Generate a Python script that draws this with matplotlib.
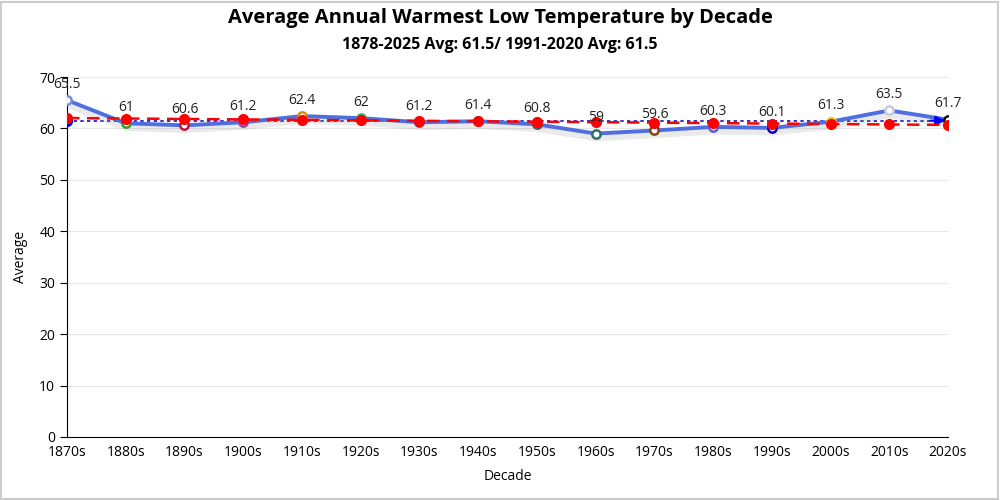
import numpy as np
import matplotlib
matplotlib.use("Agg")
import matplotlib.pyplot as plt
import matplotlib.patheffects as pe
from matplotlib.patches import Rectangle

plt.rcParams["font.family"] = ["Open Sans", "DejaVu Sans"]

decades = ["1870s", "1880s", "1890s", "1900s", "1910s", "1920s", "1930s", "1940s",
           "1950s", "1960s", "1970s", "1980s", "1990s", "2000s", "2010s", "2020s"]
averages = [65.5, 61, 60.6, 61.2, 62.4, 62, 61.2, 61.4, 60.8, 59, 59.6, 60.3, 60.1, 61.3, 63.5, 61.7]
marker_edges = ["#6f8fdc", "#2ca02c", "#c0143c", "#8e44ad", "#e08a00", "#3cb371", "#555555", "#555555",
                "#555555", "#2f6f6f", "#8b4513", "#6a5acd", "#0000cd", "#e6c800", "#c8c8dc", "#111111"]
period_avg = 61.5

x = np.arange(len(decades))
slope, intercept = np.polyfit(x, averages, 1)
trend = slope * x + intercept

fig = plt.figure(figsize=(10, 5), dpi=100)
ax = fig.add_axes([0.067, 0.126, 0.881, 0.72])

# long-term average reference line with arrow at the end
ax.plot(x, [period_avg] * len(x), color="#1010c0", lw=1.2, ls=(0, (2, 2)), zorder=3)
ax.plot(x[0], period_avg, "o", color="#0000ff", ms=7, zorder=6)
ax.annotate("", xy=(x[-1], period_avg), xytext=(x[-1] - 0.35, period_avg),
            arrowprops=dict(arrowstyle="-|>", color="#0000ff", lw=1.5, mutation_scale=14),
            zorder=6)

# decade averages
ax.plot(x, averages, color="#4f6fe0", lw=2.8, zorder=4,
        path_effects=[pe.SimpleLineShadow(offset=(0, -3), shadow_color="#999999", alpha=0.2, linewidth=5),
                      pe.Normal()])
for xi, yi, ec in zip(x, averages, marker_edges):
    ax.plot(xi, yi, "o", ms=6, mfc="white", mec=ec, mew=1.8, zorder=5)
    ax.annotate(f"{yi:g}", (xi, yi), xytext=(0, 6), textcoords="offset points",
                ha="center", va="bottom", fontsize=10, color="#222222", zorder=7)

# trend
ax.plot(x, trend, color="#ff0000", lw=1.8, ls=(0, (5, 3)), marker="o", ms=7, zorder=6)

ax.set_xlim(0, 15)
ax.set_ylim(0, 70)
ax.set_xticks(x)
ax.set_xticklabels(decades, fontsize=10)
ax.set_yticks(range(0, 71, 10))
ax.tick_params(axis="y", labelsize=10, length=5)
ax.tick_params(axis="x", length=0, pad=6)
ax.grid(axis="y", color="#e6e6e6", lw=0.8)
ax.set_axisbelow(True)
for s in ["top", "right"]:
    ax.spines[s].set_visible(False)
ax.spines["left"].set_color("black")
ax.spines["bottom"].set_color("black")
ax.set_xlabel("Decade", fontsize=10, labelpad=6)
ax.set_ylabel("Average", fontsize=10, labelpad=8)

fig.text(0.5, 0.965, "Average Annual Warmest Low Temperature by Decade",
         ha="center", va="center", fontsize=14.5, fontweight="bold")
fig.text(0.5, 0.91, "1878-2025 Avg: 61.5/ 1991-2020 Avg: 61.5",
         ha="center", va="center", fontsize=11.5, fontweight="bold")

fig.patches.append(Rectangle((0.001, 0.002), 0.997, 0.995, transform=fig.transFigure,
                             fill=False, edgecolor="#cccccc", lw=1.5))

fig.savefig("out.png", dpi=100)
